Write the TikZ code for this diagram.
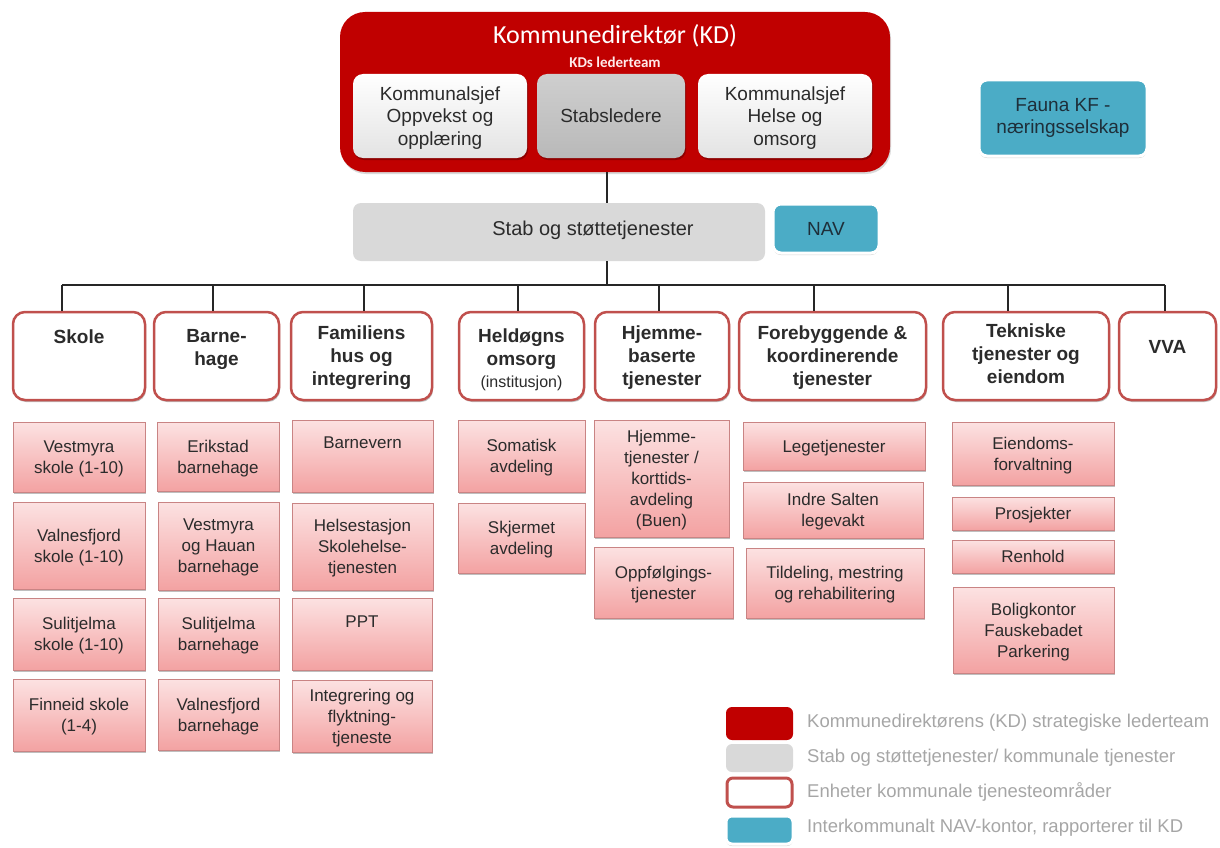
\documentclass[tikz,border=0pt]{standalone}
\usepackage{fontspec}
\setmainfont{Liberation Sans}
\newfontfamily\calfont{Carlito}
\usetikzlibrary{shadows}
\definecolor{kdred}{HTML}{C00000}
\definecolor{unitred}{HTML}{C0504D}
\definecolor{subline}{HTML}{C98484}
\definecolor{subtop}{HTML}{FCE2E2}
\definecolor{subbot}{HTML}{F3A2A2}
\definecolor{stabgray}{HTML}{D9D9D9}
\definecolor{teal}{HTML}{4BACC6}
\definecolor{tealtxt}{HTML}{1E2F3A}
\definecolor{txt}{HTML}{2B2B2B}
\definecolor{legtxt}{HTML}{A6A6A6}
\newcommand\subf{\fontsize{17}{21}\selectfont}
\newcommand\unitf{\bfseries\fontsize{19}{23}\selectfont}
\newcommand\mybox[7]{\node[#2, minimum width={(#5-#3)*1pt}, minimum height={(#6-#4)*1pt}] (#1) at ({(#3+#5)/2},{(#4+#6)/2}) {#7};}
\tikzset{
  softshadow/.style={drop shadow={shadow xshift=1pt, shadow yshift=-2pt, opacity=.25, fill=black}},
  kdbox/.style={rectangle, fill=kdred, rounded corners=25pt, inner sep=0pt, drop shadow={shadow xshift=1pt, shadow yshift=-2pt, opacity=.3}},
  innerw/.style={rectangle, top color=white, bottom color=gray!22, rounded corners=10pt, inner sep=0pt, align=center, text=txt, font=\fontsize{19}{22.5}\selectfont, text depth=0pt, softshadow},
  innerg/.style={rectangle, top color=gray!38, bottom color=gray!55, rounded corners=10pt, inner sep=0pt, align=center, text=txt, font=\fontsize{19}{22.5}\selectfont, softshadow},
  stabbox/.style={rectangle, fill=stabgray, rounded corners=8pt, inner sep=0pt},
  tealbox/.style={rectangle, fill=teal, draw=white, line width=3pt, rounded corners=8pt, inner sep=0pt, align=center, text=tealtxt, font=\fontsize{19}{22}\selectfont, drop shadow={shadow xshift=0pt, shadow yshift=-2pt, opacity=.35}},
  unitbox/.style={rectangle, draw=unitred, line width=2.5pt, fill=white, rounded corners=12pt, inner sep=0pt, softshadow},
  utext/.style={anchor=north, inner sep=0pt, align=center, text=txt, font=\unitf},
  sub/.style={rectangle, draw=subline, line width=1pt, top color=subtop, bottom color=subbot, inner sep=0pt, align=center, text=txt, font=\subf, text depth=0pt, softshadow},
  stext/.style={inner sep=0pt, align=center, text=txt, font=\subf},
  conn/.style={draw=black!85, line width=1.5pt},
  legtext/.style={anchor=west, inner sep=0pt, text=legtxt, font=\fontsize{18.5}{22}\selectfont},
}
\begin{document}
\begin{tikzpicture}[x=1pt,y=-1pt]
\useasboundingbox (0,0) rectangle (1220,848);
% top leader box
\mybox{kd}{kdbox}{340}{12}{890}{172}{}
\node[font=\calfont\fontsize{26}{30}\selectfont, text=white, inner sep=0pt] (kdt) at (615,36) {Kommunedirektør (KD)};
\node[font=\calfont\bfseries\fontsize{15}{18}\selectfont, text=white!92!red, inner sep=0pt] (kdl) at (615,62) {KDs lederteam};
\mybox{ks1}{innerw}{353}{74}{527}{158}{Kommunalsjef\\Oppvekst og\\opplæring}
\mybox{stl}{innerg}{537}{74}{685}{158}{Stabsledere}
\mybox{ks2}{innerw}{698}{74}{872}{158}{Kommunalsjef\\Helse og\\omsorg}
% fauna
\mybox{fauna}{tealbox}{979}{80}{1147}{156}{Fauna KF -\\næringsselskap}
% stab + nav
\mybox{stab}{stabbox}{353}{203}{765}{261}{}
\node[inner sep=0pt, text=txt, font=\fontsize{20}{24}\selectfont] (stabt) at (593,230) {Stab og støttetjenester};
\mybox{nav}{tealbox}{773}{204}{879}{253}{NAV}
% connectors
\coordinate (bus) at (607,285);
\draw[conn] (kd.south -| bus) -- (stab.north -| bus);
\draw[conn] (stab.south -| bus) -- (bus);
\coordinate (d1) at (62,285);
\coordinate (d2) at (213,285);
\coordinate (d3) at (364,285);
\coordinate (d4) at (518,285);
\coordinate (d5) at (659,285);
\coordinate (d6) at (814,285);
\coordinate (d7) at (1008,285);
\coordinate (d8) at (1165,285);
\draw[conn] (d1) -- (d8);
% units
\mybox{u1}{unitbox}{13}{312}{145}{400}{}
\mybox{u2}{unitbox}{154}{312}{279}{400}{}
\mybox{u3}{unitbox}{291}{312}{432}{400}{}
\mybox{u4}{unitbox}{459}{312}{584}{400}{}
\mybox{u5}{unitbox}{595}{312}{729}{400}{}
\mybox{u6}{unitbox}{739}{312}{926}{400}{}
\mybox{u7}{unitbox}{943}{312}{1109}{400}{}
\mybox{u8}{unitbox}{1119}{312}{1216}{400}{}
\foreach \i in {1,...,8} {\draw[conn] (d\i) -- (d\i |- u\i.north);}
\node[utext] (u1t) at (u1.north |- 0,330) {Skole};
\node[utext] (u2t) at (u2.north |- 0,329) {Barne-\\hage};
\node[utext] (u3t) at (u3.north |- 0,326) {Familiens\\hus og\\integrering};
\node[utext] (u4t) at (u4.north |- 0,329) {Heldøgns\\omsorg\\[-1pt]{\normalfont\fontsize{16}{20}\selectfont (institusjon)}};
\node[utext] (u5t) at (u5.north |- 0,326) {Hjemme-\\baserte\\tjenester};
\node[utext] (u6t) at (u6.north |- 0,326) {Forebyggende \&\\koordinerende\\tjenester};
\node[utext] (u7t) at (u7.north |- 0,324) {Tekniske\\tjenester og\\eiendom};
\node[utext] (u8t) at (u8.north |- 0,340) {VVA};
% column 1
\mybox{s11}{sub}{13}{422}{145}{492}{Vestmyra\\skole (1-10)}
\mybox{s12}{sub}{13}{502}{145}{589}{Valnesfjord\\skole (1-10)}
\mybox{s13}{sub}{13}{598}{145}{670}{Sulitjelma\\skole (1-10)}
\mybox{s14}{sub}{13}{679}{145}{751}{Finneid skole\\(1-4)}
% column 2
\mybox{s21}{sub}{157}{422}{279}{491}{Erikstad\\barnehage}
\mybox{s22}{sub}{158}{502}{279}{590}{Vestmyra\\og Hauan\\barnehage}
\mybox{s23}{sub}{158}{598}{279}{670}{Sulitjelma\\barnehage}
\mybox{s24}{sub}{158}{679}{279}{750}{Valnesfjord\\barnehage}
% column 3
\mybox{s31}{sub}{292}{420}{433}{492}{}
\node[stext] (s31t) at (s31.north |- 0,443) {Barnevern};
\mybox{s32}{sub}{292}{503}{433}{590}{Helsestasjon\\Skolehelse-\\tjenesten}
\mybox{s33}{sub}{292}{598}{432}{670}{}
\node[stext] (s33t) at (s33.north |- 0,622) {PPT};
\mybox{s34}{sub}{292}{680}{432}{752}{Integrering og\\flyktning-\\tjeneste}
% column 4
\mybox{s41}{sub}{458}{420}{585}{492}{Somatisk\\avdeling}
\mybox{s42}{sub}{458}{503}{585}{573}{Skjermet\\avdeling}
% column 5
\mybox{s51}{sub}{594}{420}{729}{537}{Hjemme-\\tjenester /\\korttids-\\avdeling\\(Buen)}
\mybox{s52}{sub}{594}{547}{733}{618}{Oppfølgings-\\tjenester}
% column 6
\mybox{s61}{sub}{743}{422}{925}{470}{Legetjenester}
\mybox{s62}{sub}{743}{482}{923}{538}{Indre Salten\\legevakt}
\mybox{s63}{sub}{746}{548}{924}{618}{Tildeling, mestring\\og rehabilitering}
% column 7
\mybox{s71}{sub}{952}{422}{1114}{485}{Eiendoms-\\forvaltning}
\mybox{s72}{sub}{952}{497}{1114}{530}{Prosjekter}
\mybox{s73}{sub}{952}{540}{1114}{573}{Renhold}
\mybox{s74}{sub}{953}{587}{1114}{673}{Boligkontor\\Fauskebadet\\Parkering}
% legend
\mybox{lg1}{rectangle, fill=kdred, rounded corners=6pt}{726}{707}{793}{740}{}
\mybox{lg2}{rectangle, fill=stabgray, rounded corners=6pt}{726}{744}{793}{772}{}
\mybox{lg3}{rectangle, fill=white, draw=unitred, line width=3pt, rounded corners=6pt}{727}{778}{792}{807}{}
\mybox{lg4}{rectangle, fill=teal, draw=white, line width=3pt, rounded corners=6pt, drop shadow={shadow xshift=0pt, shadow yshift=-2pt, opacity=.35}}{726}{816}{793}{844}{}
\node[legtext] (lt1) at (807,723) {Kommunedirektørens (KD) strategiske lederteam};
\node[legtext] (lt2) at (807,758) {Stab og støttetjenester/ kommunale tjenester};
\node[legtext] (lt3) at (807,792) {Enheter kommunale tjenesteområder};
\node[legtext] (lt4) at (807,828) {Interkommunalt NAV-kontor, rapporterer til KD};
\end{tikzpicture}
\end{document}
